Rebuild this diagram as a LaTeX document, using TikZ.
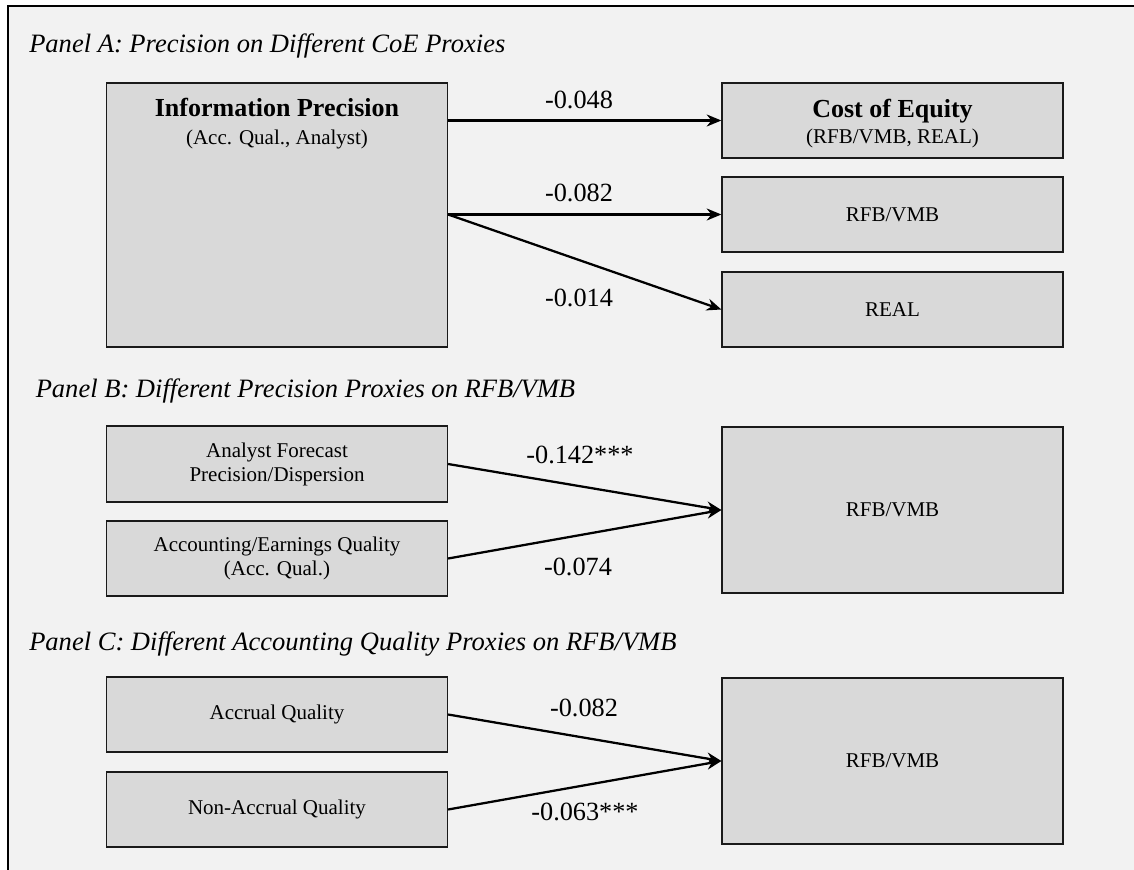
\documentclass[tikz,border=0pt]{standalone}
\usepackage{fontspec}
\setmainfont{Liberation Serif}
\usetikzlibrary{arrows.meta}
\definecolor{bg}{HTML}{F2F2F2}
\definecolor{boxfill}{HTML}{D9D9D9}
\definecolor{edgecol}{HTML}{1A1A1A}
\begin{document}
\begin{tikzpicture}[x=0.75pt,y=-0.75pt,
  box/.style={draw=edgecol, line width=1.2pt, fill=boxfill, inner sep=0pt, minimum width=255.5pt},
  bigtxt/.style={font=\fontsize{19.5}{23}\selectfont, inner sep=0pt},
  smalltxt/.style={font=\fontsize{15.75}{18}\selectfont, inner sep=0pt, align=center},
  paneltitle/.style={font=\fontsize{19.9}{23}\selectfont\itshape, anchor=base west, inner sep=0pt},
  lab/.style={font=\fontsize{19.7}{23}\selectfont, inner sep=0pt},
  arr/.style={-{Stealth[length=11pt,width=9pt]}, line width=1.7pt, black}]
\useasboundingbox (0,0) rectangle (1134,870);
\clip (0,0) rectangle (1134,870);
\fill[white] (0,0) rectangle (1134,870);
\draw[fill=bg, line width=1.2pt, draw=black] (8,6) rectangle (1160,900);

% Panel A
\node[paneltitle] (tA) at (29,53) {Panel A: Precision on Different CoE Proxies};
\node[box, minimum height=198pt] (IP) at (277,215) {};
\node[bigtxt, anchor=base, font=\fontsize{19.5}{23}\selectfont\bfseries] (IPa) at (277,117) {Information Precision};
\node[smalltxt, anchor=base] (IPb) at (277,145) {(Acc. Qual., Analyst)};

\node[box, minimum height=56.25pt] (CoE) at (892.5,120.5) {};
\node[bigtxt, anchor=base, font=\fontsize{19.5}{23}\selectfont\bfseries] (CoEa) at (892.5,118) {Cost of Equity};
\node[smalltxt, anchor=base] (CoEb) at (892.5,144) {(RFB/VMB, REAL)};
\node[box, minimum height=56.25pt, smalltxt] (RA) at (892.5,214.5) {RFB/VMB};
\node[box, minimum height=56.25pt, smalltxt] (RE) at (892.5,309.5) {REAL};

\draw[arr] (IP.east |- CoE) -- (CoE.west);
\draw[arr] (IP.east |- RA) -- (RA.west);
\draw[arr] (IP.east |- RA) -- (RE.west);
\node[lab] (l1) at (579,100) {-0.048};
\node[lab] (l2) at (579,193) {-0.082};
\node[lab] (l3) at (579,298) {-0.014};

% Panel B
\node[paneltitle] (tB) at (35.5,397) {Panel B: Different Precision Proxies on RFB/VMB};
\node[box, minimum height=57pt, smalltxt] (AF) at (277,464) {Analyst Forecast\\Precision/Dispersion};
\node[box, minimum height=56.25pt, smalltxt] (AE) at (277,558.5) {Accounting/Earnings Quality\\(Acc. Qual.)};
\node[box, minimum height=124.5pt, smalltxt] (RB) at (892.5,510) {RFB/VMB};
\draw[arr] (AF.east) -- (RB.west);
\draw[arr] (AE.east) -- (RB.west);
\node[lab] (l4) at (580,455) {-0.142***};
\node[lab] (l5) at (578,567) {-0.074};

% Panel C
\node[paneltitle] (tC) at (29,650) {Panel C: Different Accounting Quality Proxies on RFB/VMB};
\node[box, minimum height=56.25pt, smalltxt] (AQ) at (277,714.5) {Accrual Quality};
\node[box, minimum height=56.25pt, smalltxt] (NQ) at (277,809.5) {Non-Accrual Quality};
\node[box, minimum height=124.5pt, smalltxt] (RC) at (892.5,761) {RFB/VMB};
\draw[arr] (AQ.east) -- (RC.west);
\draw[arr] (NQ.east) -- (RC.west);
\node[lab] (l6) at (584,708) {-0.082};
\node[lab] (l7) at (585,812) {-0.063***};
\end{tikzpicture}
\end{document}
